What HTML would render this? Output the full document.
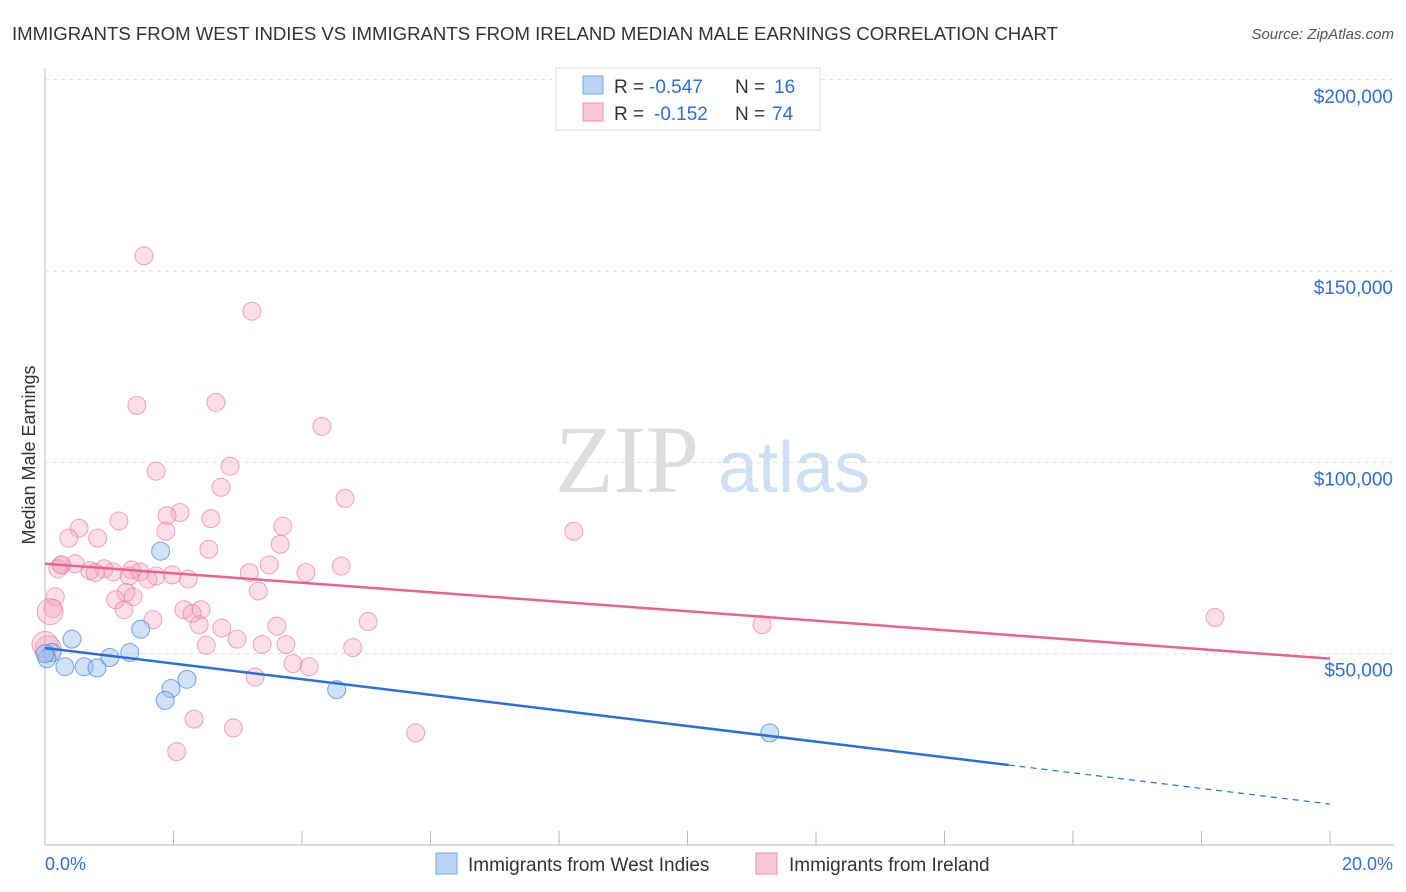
<!DOCTYPE html>
<html><head><meta charset="utf-8"><style>
body{margin:0;background:#fff;font-family:"Liberation Sans",sans-serif;}
#wrap{position:relative;width:1406px;height:892px;overflow:hidden;}
</style></head><body>
<div id="wrap">
<svg id="svg" width="1406" height="892" xmlns="http://www.w3.org/2000/svg">
<text x="12" y="40" font-size="18" fill="#333" textLength="1046" lengthAdjust="spacingAndGlyphs">IMMIGRANTS FROM WEST INDIES VS IMMIGRANTS FROM IRELAND MEDIAN MALE EARNINGS CORRELATION CHART</text>
<text x="1394" y="39" font-size="15" fill="#555" font-style="italic" text-anchor="end">Source: ZipAtlas.com</text>
<text x="-455" y="35" transform="rotate(-90)" font-size="18" fill="#333" text-anchor="middle">Median Male Earnings</text>
<text x="555" y="492" font-size="96" fill="#ddd" font-family="Liberation Serif,serif">ZIP</text>
<text x="718" y="492" font-size="72" fill="#cfe0f3">atlas</text>
<g id="grid"></g><g id="marks"></g>
<g>
<rect x="556" y="68" width="264" height="62" fill="#fff" stroke="#ddd"/>
<rect x="583" y="76" width="20" height="18" fill="#b8d3f5" stroke="#7aa8e0"/>
<text x="614" y="93" font-size="19" fill="#333">R = </text>
<text x="649" y="93" font-size="19" fill="#2f6fd6">-0.547</text>
<text x="735" y="93" font-size="19" fill="#333">N = </text>
<text x="774" y="93" font-size="19" fill="#2f6fd6">16</text>
<rect x="583" y="103" width="20" height="18" fill="#f9c8d6" stroke="#e890ab"/>
<text x="614" y="120" font-size="19" fill="#333">R = </text>
<text x="654" y="120" font-size="19" fill="#2f6fd6">-0.152</text>
<text x="735" y="120" font-size="19" fill="#333">N = </text>
<text x="772" y="120" font-size="19" fill="#2f6fd6">74</text>
</g>
<g>
<rect x="436" y="853" width="21" height="21" fill="#b8d3f5" stroke="#7aa8e0"/>
<text x="468" y="871" font-size="19" fill="#333">Immigrants from West Indies</text>
<rect x="756" y="853" width="21" height="21" fill="#f9c8d6" stroke="#e890ab"/>
<text x="789" y="871" font-size="19" fill="#333">Immigrants from Ireland</text>
</g>
<text x="45" y="870" font-size="18" fill="#2f6fd6">0.0%</text>
<text x="1393" y="870" font-size="18" fill="#2f6fd6" text-anchor="end">20.0%</text>
</svg></div>
<script>
const yTicks=[50000,100000,150000,200000];
const yTickLabels=["$50,000","$100,000","$150,000","$200,000"];
const pinkX=[1.54,3.22,1.43,2.66,4.31,1.73,2.88,2.74,4.67,8.23,1.15,0.53,2.10,1.90,2.58,1.88,0.37,0.82,3.70,2.55,3.66,0.26,0.47,0.70,0.92,1.06,1.35,1.48,1.98,1.73,0.25,0.20,0.78,3.49,4.61,3.18,4.06,1.31,1.60,2.23,1.26,3.32,0.16,1.10,1.37,0.12,1.23,1.68,2.16,2.43,2.29,2.40,3.61,2.75,5.03,11.16,18.21,2.99,3.38,3.75,2.51,4.79,3.86,4.11,0.05,3.27,2.32,2.93,5.77,2.05,0.08,0.0];
const pinkY=[154000,139500,114900,115700,109400,97700,99000,93500,90600,82000,84700,82800,86900,86100,85300,82000,80200,80200,83300,77300,78600,73200,73500,71700,72200,71400,71900,71400,70600,70300,73200,72200,71200,73200,72900,71200,71200,70300,69500,69500,66000,66400,64900,64100,64900,61800,61500,58900,61500,61500,60500,57600,57200,56700,58400,57600,59500,53800,52400,52400,52200,51600,47400,46600,51300,43900,32900,30600,29300,24400,61000,52400];
const blueX=[0.42,1.49,1.80,0.11,0.31,0.61,0.81,1.01,1.32,2.21,1.96,1.87,4.54,11.28,0.03,0.0];
const blueY=[53800,56400,76800,50300,46600,46600,46300,49000,50300,43300,40900,37800,40600,29300,48700,50000];
const pinkFit=[73500,48700];
const blueFit=[51500,10700];
const NS='http://www.w3.org/2000/svg';
const X=v=>45+v/20*1285, Y=v=>845-v/50000*191.3;
const grid=document.getElementById('grid'), marks=document.getElementById('marks');
function mk(tag,attrs,parent){const e=document.createElementNS(NS,tag);for(const k in attrs)e.setAttribute(k,attrs[k]);parent.appendChild(e);return e;}
let a=mk('line',{x1:45,y1:68,x2:45,y2:845,stroke:'#bbb'},grid);


a=mk('line',{x1:45,y1:845,x2:1394,y2:845,stroke:'#bbb'},grid);


for(let i=0;i<=10;i++){const t=mk('line',{x1:X(i*2),y1:845,x2:X(i*2),y2:831,stroke:'#bbb'},grid);

}
yTicks.forEach((v,i)=>{const l=mk('line',{x1:45,y1:Y(v),x2:1394,y2:Y(v),stroke:'#ddd','stroke-dasharray':'4,4'},grid);


const t=mk('text',{x:1393,y:Y(v)+23,'font-size':19,fill:'#2f6fd6','text-anchor':'end'},grid);t.textContent=yTickLabels[i];

});
pinkX.forEach((x,i)=>{const c=mk('circle',{cx:X(x),cy:Y(pinkY[i]),r:(x<0.1?13:9),fill:'rgba(244,160,186,0.35)',stroke:'rgba(232,130,165,0.7)','stroke-width':1},marks);

});
blueX.forEach((x,i)=>{const c=mk('circle',{cx:X(x),cy:Y(blueY[i]),r:9,fill:'rgba(150,190,240,0.45)',stroke:'rgba(70,130,220,0.7)','stroke-width':1},marks);

});
let l=mk('line',{x1:X(0),y1:Y(pinkFit[0]),x2:X(20),y2:Y(pinkFit[1]),stroke:'#e8648f','stroke-width':2.5},marks);


const bAt=x=>blueFit[0]+(blueFit[1]-blueFit[0])*x/20;
l=mk('line',{x1:X(0),y1:Y(bAt(0)),x2:X(15),y2:Y(bAt(15)),stroke:'#2a6fdb','stroke-width':2.5},marks);


l=mk('line',{x1:X(15),y1:Y(bAt(15)),x2:X(20),y2:Y(bAt(20)),stroke:'#2a6fdb','stroke-width':1.2,'stroke-dasharray':'6,5'},marks);


</script>
</body></html>
